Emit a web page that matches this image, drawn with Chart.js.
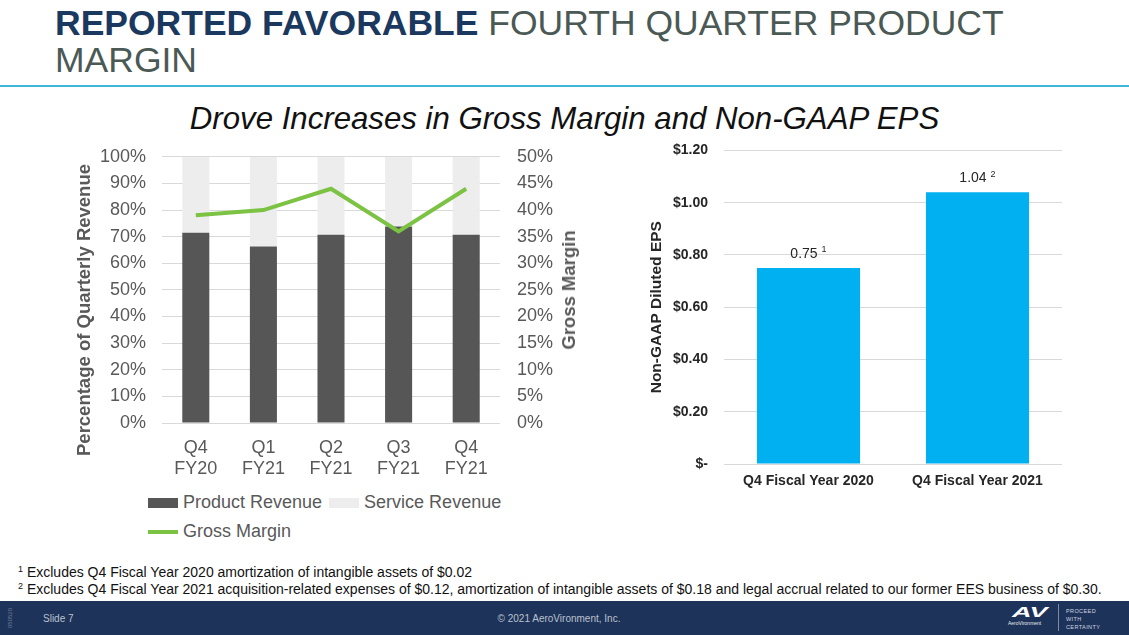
<!DOCTYPE html>
<html><head><meta charset="utf-8">
<script src="https://cdn.jsdelivr.net/npm/chart.js@4.4.0/dist/chart.umd.min.js"></script>
<style>
html,body{margin:0;padding:0;background:#fff;}
body{width:1129px;height:635px;position:relative;overflow:hidden;font-family:"Liberation Sans",Arial,sans-serif;}
.abs{position:absolute;white-space:nowrap;}
.rot{position:absolute;white-space:nowrap;transform:translate(-50%,-50%) rotate(-90deg);}
#legend{position:absolute;left:148px;top:488px;width:370px;display:flex;flex-wrap:wrap;font-size:18px;color:#595959;}
#legend .item{display:flex;align-items:center;height:29px;margin-right:7px;}
#legend .sw{width:30px;margin-right:5px;}
</style></head><body>

<div class="abs" style="left:55px;top:4.6px;font-size:35.5px;line-height:37.5px;color:#4b5955;"><b style="color:#1b385f">REPORTED FAVORABLE</b> FOURTH QUARTER PRODUCT<br>MARGIN</div>
<div class="abs" style="left:0;top:85px;width:1129px;height:2px;background:#3fb6dc"></div>
<div class="abs" style="left:0;top:102.5px;width:1129px;text-align:center;font-size:31.2px;line-height:31px;font-style:italic;color:#111;">Drove Increases in Gross Margin and Non-GAAP EPS</div>

<div class="abs" style="left:60px;top:129px;width:520px;height:354px;"><canvas id="left" width="520" height="354"></canvas></div>
<div class="rot" style="left:83.5px;top:310px;font-size:18.5px;font-weight:bold;color:#595959;">Percentage of Quarterly Revenue</div>
<div class="rot" style="left:569px;top:290px;font-size:18.5px;font-weight:bold;color:#595959;">Gross Margin</div>
<div id="legend"></div>

<div class="abs" style="left:620px;top:126px;width:460px;height:374px;"><canvas id="right" width="460" height="374"></canvas></div>

<div class="abs" style="left:18px;top:564.6px;font-size:14px;line-height:15px;color:#111;">
<span style="font-size:9px;position:relative;top:-5px;">1</span> Excludes Q4 Fiscal Year 2020 amortization of intangible assets of $0.02<br>
<span style="font-size:9px;position:relative;top:-5px;">2</span> Excludes Q4 Fiscal Year 2021 acquisition-related expenses of $0.12, amortization of intangible assets of $0.18 and legal accrual related to our former EES business of $0.30.</div>

<div class="abs" style="left:0;top:601px;width:1129px;height:34px;background:#1e3359"></div>
<div class="rot" style="left:10px;top:618px;font-size:6px;color:#6d7d99;">050520</div>
<div class="abs" style="left:43px;top:613px;font-size:10px;line-height:12px;color:#b9c1cf">Slide 7</div>
<div class="abs" style="left:459px;top:613px;width:200px;text-align:center;font-size:10px;line-height:12px;color:#b9c1cf">© 2021 AeroVironment, Inc.</div>
<div class="abs" style="left:1012px;top:604px;font-size:15px;line-height:15px;font-weight:900;font-style:italic;color:#fff;transform:scaleX(1.8);transform-origin:left top;">AV</div>
<div class="abs" style="left:1008px;top:620px;font-size:5px;line-height:6px;color:#e6e9ef;">AeroVironment</div>
<div class="abs" style="left:1058px;top:604px;width:1px;height:27px;background:#7f8aa3"></div>
<div class="abs" style="left:1066px;top:607px;font-size:5.5px;line-height:8px;letter-spacing:0.4px;color:#cfd5e0;">PROCEED<br>WITH<br>CERTAINTY</div>

<script>
// ---- data ----
const quarters = [['Q4','FY20'],['Q1','FY21'],['Q2','FY21'],['Q3','FY21'],['Q4','FY21']];
const productRevenuePct = [71.5, 66.3, 70.7, 73.8, 70.7];
const serviceRevenuePct = [28.5, 33.7, 29.3, 26.2, 29.3];
const grossMarginPct = [39.0, 40.0, 44.0, 36.0, 44.0];
const revenueTicksMax = 100;
const marginTicksMax = 50;

const epsPeriods = ['Q4 Fiscal Year 2020', 'Q4 Fiscal Year 2021'];
const nonGaapEps = [0.75, 1.04];
const epsNotes = ['1', '2'];

Chart.defaults.font.family = '"Liberation Sans", Arial, sans-serif';
Chart.defaults.devicePixelRatio = 1;

const leftChart = new Chart(document.getElementById('left'), {
  type: 'bar',
  data: {
    labels: quarters,
    datasets: [
      {label: 'Product Revenue', data: productRevenuePct, backgroundColor: '#565656', yAxisID: 'y',
       barPercentage: 0.4, categoryPercentage: 1, order: 1},
      {label: 'Service Revenue', data: serviceRevenuePct, backgroundColor: '#ededed', yAxisID: 'y',
       barPercentage: 0.4, categoryPercentage: 1, order: 1},
      {type: 'line', label: 'Gross Margin', data: grossMarginPct, yAxisID: 'y2', borderColor: '#7cc243',
       backgroundColor: '#7cc243', borderWidth: 4, pointRadius: 0, tension: 0, order: 0, fill: false}
    ]
  },
  options: {
    responsive: false, animation: false,
    layout: {padding: {top: 0, left: 0, right: 0, bottom: 0}},
    plugins: {legend: {display: false}, tooltip: {enabled: false}},
    scales: {
      x: {stacked: true, grid: {display: false, drawTicks: false}, border: {display: false},
          ticks: {color: '#595959', font: {size: 18}, padding: 14, maxRotation: 0, autoSkip: false},
          afterFit: s => { s.height = 60; }},
      y: {stacked: true, min: 0, max: revenueTicksMax, grid: {color: '#d9d9d9', drawTicks: false}, border: {display: false},
          ticks: {stepSize: 10, callback: v => v + '%', color: '#595959', font: {size: 18}, padding: 16},
          afterFit: s => { s.width = 102; }},
      y2: {position: 'right', min: 0, max: marginTicksMax, grid: {display: false, drawTicks: false}, border: {display: false},
          ticks: {stepSize: 5, callback: v => v + '%', color: '#595959', font: {size: 18}, padding: 17},
          afterFit: s => { s.width = 80; }}
    }
  }
});

// HTML legend built from the chart datasets
const legendEl = document.getElementById('legend');
leftChart.data.datasets.forEach(ds => {
  const item = document.createElement('div'); item.className = 'item';
  const sw = document.createElement('div'); sw.className = 'sw';
  if (ds.type === 'line') { sw.style.height = ds.borderWidth + 'px'; sw.style.background = ds.borderColor; }
  else { sw.style.height = '10px'; sw.style.background = ds.backgroundColor; }
  const tx = document.createElement('span'); tx.textContent = ds.label;
  item.appendChild(sw); item.appendChild(tx); legendEl.appendChild(item);
});

const epsLabelPlugin = {
  id: 'epsLabels',
  afterDatasetsDraw(chart) {
    const ctx = chart.ctx;
    const meta = chart.getDatasetMeta(0);
    const fam = '"Liberation Sans", Arial, sans-serif';
    meta.data.forEach((bar, i) => {
      const main = nonGaapEps[i].toFixed(2);
      const sup = epsNotes[i];
      ctx.save();
      ctx.font = '14px ' + fam; const w1 = ctx.measureText(main).width;
      ctx.font = '9px ' + fam; const w2 = ctx.measureText(sup).width;
      const gap = 4, total = w1 + gap + w2;
      const x0 = bar.x - total / 2, y = bar.y - 14;
      ctx.fillStyle = '#262626'; ctx.textBaseline = 'middle'; ctx.textAlign = 'left';
      ctx.font = '14px ' + fam; ctx.fillText(main, x0, y);
      ctx.font = '9px ' + fam; ctx.fillText(sup, x0 + w1 + gap, y - 4);
      ctx.restore();
    });
  }
};

new Chart(document.getElementById('right'), {
  type: 'bar',
  data: {
    labels: epsPeriods,
    datasets: [{label: 'Non-GAAP Diluted EPS', data: nonGaapEps, backgroundColor: '#00b0f0',
                barPercentage: 0.61, categoryPercentage: 1}]
  },
  options: {
    responsive: false, animation: false,
    layout: {padding: {top: 0, right: 18, left: 0, bottom: 0}},
    plugins: {legend: {display: false}, tooltip: {enabled: false}},
    scales: {
      x: {grid: {display: false, drawTicks: false}, border: {display: false},
          ticks: {color: '#262626', font: {size: 14, weight: 'bold'}, padding: 9, maxRotation: 0},
          afterFit: s => { s.height = 36; }},
      y: {min: 0, max: 1.2, grid: {color: '#d9d9d9', drawTicks: false}, border: {display: false},
          ticks: {stepSize: 0.2, callback: v => (Math.abs(v) < 1e-9 ? '$-' : '$' + v.toFixed(2)),
                  color: '#262626', font: {size: 14, weight: 'bold'}, padding: 16},
          title: {display: true, text: 'Non-GAAP Diluted EPS', color: '#262626',
                  font: {size: 15.5, weight: 'bold'}, padding: {top: 27, bottom: 0}},
          afterFit: s => { s.width = 104; }}
    }
  },
  plugins: [epsLabelPlugin]
});
</script>
</body></html>
